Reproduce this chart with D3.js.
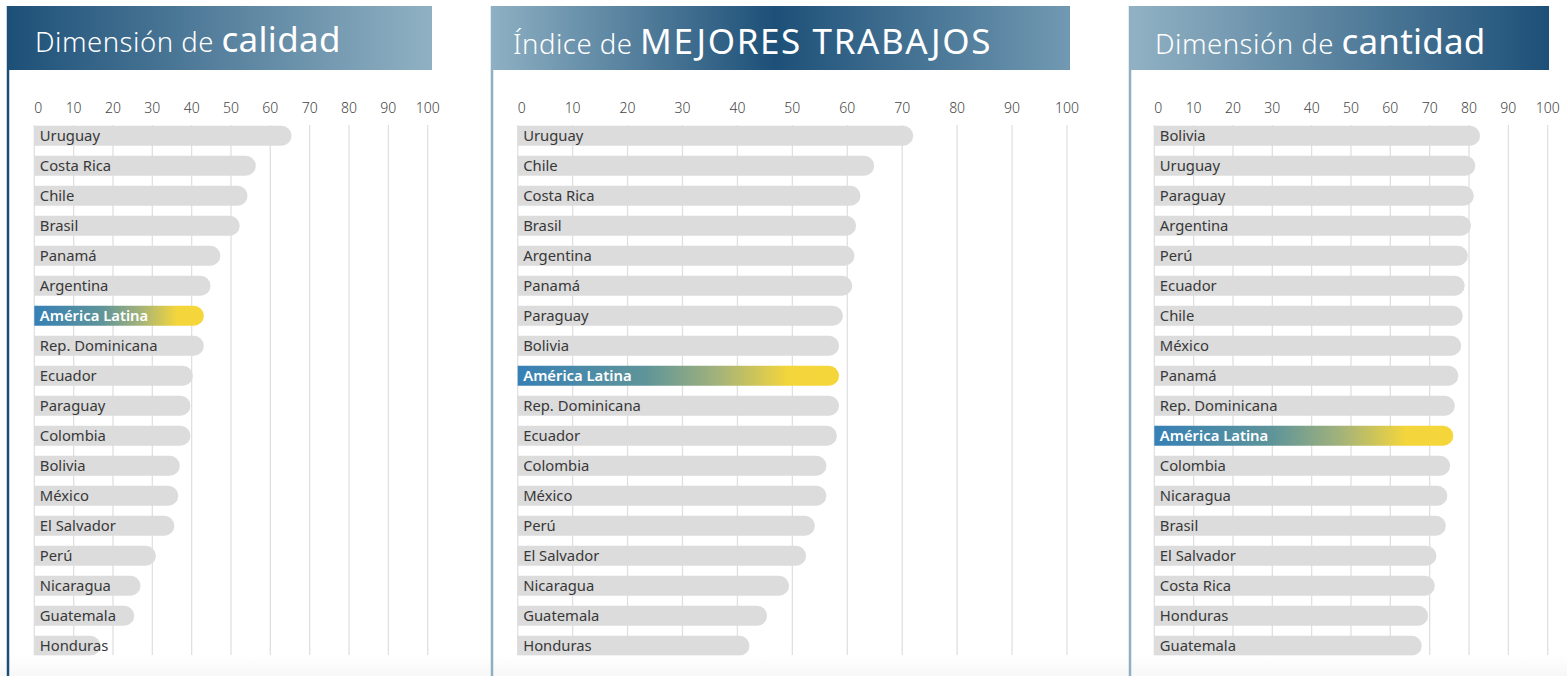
<!DOCTYPE html>
<html><head><meta charset="utf-8">
<script src="https://cdn.jsdelivr.net/npm/d3@7"></script>
<style>
body{margin:0;background:#fff;}
svg{display:block;font-family:'Noto Sans',sans-serif;}
</style>
</head><body>
<svg id="chart" width="1567" height="676"></svg>
<script>
// ---- data ----
const tickValues = [0,10,20,30,40,50,60,70,80,90,100];

const calidadCountries = ["Uruguay","Costa Rica","Chile","Brasil","Panamá","Argentina","América Latina","Rep. Dominicana","Ecuador","Paraguay","Colombia","Bolivia","México","El Salvador","Perú","Nicaragua","Guatemala","Honduras"];
const calidadValues = [65.4,56.3,54.2,52.2,47.3,44.8,43.1,43.1,40.3,39.7,39.7,37.0,36.6,35.6,30.9,27.0,25.4,16.8];

const indiceCountries = ["Uruguay","Chile","Costa Rica","Brasil","Argentina","Panamá","Paraguay","Bolivia","América Latina","Rep. Dominicana","Ecuador","Colombia","México","Perú","El Salvador","Nicaragua","Guatemala","Honduras"];
const indiceValues = [72.0,64.9,62.4,61.6,61.3,60.9,59.2,58.5,58.5,58.5,58.1,56.2,56.2,54.1,52.5,49.4,45.4,42.2];

const cantidadCountries = ["Bolivia","Uruguay","Paraguay","Argentina","Perú","Ecuador","Chile","México","Panamá","Rep. Dominicana","América Latina","Colombia","Nicaragua","Brasil","El Salvador","Costa Rica","Honduras","Guatemala"];
const cantidadValues = [82.8,81.6,81.2,80.5,79.7,78.9,78.4,78.0,77.3,76.4,76.0,75.2,74.5,74.1,71.7,71.3,69.6,68.0];

const highlight = "América Latina";

// ---- layout ----
const svg = d3.select("#chart");
const defs = svg.append("defs");

function linGrad(id, stops){
  const g = defs.append("linearGradient").attr("id", id).attr("x1","0").attr("x2","1").attr("y1","0").attr("y2","0");
  stops.forEach(s => g.append("stop").attr("offset", s[0]).attr("stop-color", s[1]));
}
linGrad("h1", [[0,"#1d5078"],[1,"#90b1c3"]]);
linGrad("h2", [[0,"#8eb0c3"],[0.49,"#1d5078"],[1,"#7199b2"]]);
linGrad("h3", [[0,"#92b2c4"],[1,"#1d5078"]]);
linGrad("hl", [[0,"#3680b6"],[0.4,"#5f9599"],[0.62,"#a2b27b"],[0.84,"#f3d53c"],[1,"#f5d63a"]]);
linGrad("fade", [[0,"#ffffff"],[1,"#f7f7f7"]]);
defs.select("#fade").attr("x2","0").attr("y2","1");

const panels = [
  {countries: calidadCountries, values: calidadValues, x0: 34.3, x1: 427.7, hx: 8, hw: 424, grad: "h1",
   light: "Dimensión de ", bold: "calidad", tx: 35, ty: 52, border: "#1d4f76", bx: 8, ls: 0.3},
  {countries: indiceCountries, values: indiceValues, x0: 517.7, x1: 1067, hx: 491, hw: 579, grad: "h2",
   light: "Índice de ", bold: "MEJORES TRABAJOS", tx: 513, ty: 54, border: "#8fb0c3", bx: 492, ls: 1.6},
  {countries: cantidadCountries, values: cantidadValues, x0: 1154.3, x1: 1547.7, hx: 1129, hw: 420, grad: "h3",
   light: "Dimensión de ", bold: "cantidad", tx: 1155, ty: 53.5, border: "#8fb0c3", bx: 1130, ls: 0.2}
];

function barPath(xa, xb, y, h){
  const r = h/2;
  const xe = Math.max(xb - r, xa);
  return `M${xa},${y}H${xe}A${r},${r} 0 0 1 ${xe},${y+h}H${xa}Z`;
}

panels.forEach(p => {
  const g = svg.append("g");
  const x = d3.scaleLinear().domain([0,100]).range([p.x0, p.x1]);
  const y = d3.scaleBand().domain(p.countries).range([125.7, 655.7]).paddingInner(1/3).paddingOuter(0);

  // header
  g.append("rect").attr("x", p.hx).attr("y", 6).attr("width", p.hw).attr("height", 64).attr("fill", `url(#${p.grad})`);
  const t = g.append("text").attr("x", p.tx).attr("y", p.ty).attr("fill", "#fff");
  t.append("tspan").attr("font-size", 27.5).attr("font-weight", 300).attr("letter-spacing", 0.5).text(p.light);
  t.append("tspan").attr("font-size", 35).attr("font-weight", 400).attr("letter-spacing", p.ls).text(p.bold);

  // tick labels
  g.append("g").selectAll("text").data(tickValues).join("text")
    .attr("x", d => x(d)).attr("y", 113)
    .attr("text-anchor", d => d === 0 ? "start" : "middle")
    .attr("font-size", 14).attr("font-weight", 300).attr("fill", "#444")
    .text(d => d);

  // grid
  g.append("g").selectAll("line").data(tickValues).join("line")
    .attr("x1", d => x(d)).attr("x2", d => x(d))
    .attr("y1", 125).attr("y2", 655)
    .attr("stroke", "#e0e0e0").attr("stroke-width", 1.3);

  const rows = p.countries.map((c,i) => ({c, v: p.values[i]}));
  g.append("g").selectAll("path").data(rows).join("path")
    .attr("d", d => barPath(x(0), x(d.v), y(d.c), y.bandwidth()))
    .attr("fill", d => d.c === highlight ? "url(#hl)" : "#dcdcdc");

  g.append("g").selectAll("text").data(rows).join("text")
    .attr("x", x(0) + 5.5).attr("y", d => y(d.c) + y.bandwidth()/2)
    .attr("dy", "0.36em")
    .attr("font-size", 14.8)
    .attr("font-weight", d => d.c === highlight ? 600 : 400)
    .attr("fill", d => d.c === highlight ? "#fff" : "#383838")
    .text(d => d.c);
});

// bottom fade band
svg.append("rect").attr("x", 0).attr("y", 655.5).attr("width", 1567).attr("height", 20.5).attr("fill", "url(#fade)");

// panel left borders
panels.forEach(p => {
  svg.append("line").attr("x1", p.bx).attr("x2", p.bx).attr("y1", 6).attr("y2", 676)
    .attr("stroke", p.border).attr("stroke-width", 2.5);
});
</script>
</body></html>
